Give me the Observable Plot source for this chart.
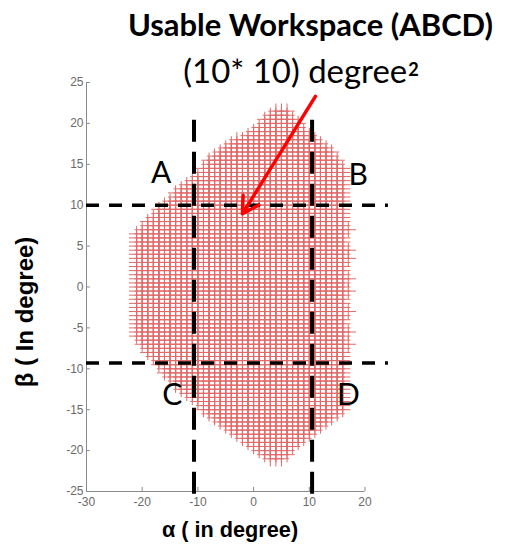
<!DOCTYPE html>
<html><head><meta charset="utf-8">
<script src="https://cdn.jsdelivr.net/npm/d3@7"></script>
<script src="https://cdn.jsdelivr.net/npm/@observablehq/plot@0.6"></script>
<style>
body{margin:0;background:#fff;}
#wrap{position:relative;width:505px;height:546px;overflow:hidden;background:#fff}
#wrap svg{position:absolute;left:0;top:0}
.lbl{position:absolute;white-space:nowrap;line-height:1;transform:translate(-50%,-50%);color:#000}
</style></head><body>
<div id="wrap">
<div id="chart"></div>
<div class="lbl" id="t1" data-w="365" style="left:310.5px;top:24px;font-family:Lato;font-weight:bold;font-size:28px">Usable Workspace (ABCD)</div>
<div class="lbl" id="t2" data-w="236" style="left:301px;top:70px;font-family:Lato;font-size:30px">(10* 10) degree<span style="font-weight:bold;font-size:0.55em;position:relative;top:-7px;margin-left:1px">2</span></div>
<div class="lbl" id="xl" data-w="136" style="left:230px;top:530px;font-family:'Liberation Sans';font-weight:bold;font-size:21.7px">α ( in degree)</div>
<div class="lbl" id="yl" data-w="151" style="left:24.5px;top:312px;font-family:'Liberation Sans';font-weight:bold;font-size:24px;transform:translate(-50%,-50%) rotate(-90deg)">β ( In degree)</div>
</div>
<script>
// ---- data ----
const alphaTicks = [-30, -20, -10, 0, 10, 20];
const betaTicks = [25, 20, 15, 10, 5, 0, -5, -10, -15, -20, -25];

// boundary of the reachable workspace (alpha, beta), clockwise from top
const boundaryAlpha = [3.5, 5.6, 9, 13, 15.5, 16.8, 16.8, 16.5, 13.2, 10, 6.5, 5.6, 3.4, 2.4, -2.5, -6.6, -10.2, -13.8, -16.9, -20.5, -21.7, -21.7, -20.8, -18.5, -16.1, -14.3, -10.1, -8.2, -4.1, 1.3];
const boundaryBeta  = [21.8, 21.8, 19.5, 17.2, 15.5, 14, -9, -14.8, -16.6, -18.3, -20.2, -21.4, -21.4, -20.8, -18.7, -16.6, -14.3, -12.3, -9.8, -6.8, -5.5, 6.2, 6.9, 8.5, 10.2, 11.4, 13.9, 15.5, 17.5, 20];
// sampling grid of the workspace scan
const gridAlphaStep = 1, gridBetaStep = 0.5;
// rows where the right edge reaches one column further
const rightBumpAlpha = 17;
const rightBumpBeta = [7, 4.5, 3.5, 1, -0.5, -3, -5.5, -7];

// dashed limits of usable workspace ABCD
const vLineAlpha = [-10.7, 10.5];
const vLineBetaTop = 20.4, vLineBetaBottom = -25.7;
const hLineBeta = [10, -9.3];
const hLineAlphaLeft = -30, hLineAlphaRight = 24.2;

// corner labels
const cornerText  = ["A", "B", "C", "D"];
const cornerAlpha = [-16.6, 18.8, -14.6, 17.0];
const cornerBeta  = [13.9, 13.7, -13.3, -13.3];

// red arrow
const arrowFrom = [11.1, 23.3];
const arrowTo = [-2.0, 8.95];

// ---- build marks ----
const boundary = boundaryAlpha.map((a, i) => [a, boundaryBeta[i]]);
const aMin = d3.min(boundaryAlpha), aMax = d3.max(boundaryAlpha);
const bMin = d3.min(boundaryBeta), bMax = d3.max(boundaryBeta);
const points = [];
for (let a = Math.ceil(aMin); a <= aMax; a += gridAlphaStep) {
  for (let b = Math.ceil(bMin / gridBetaStep) * gridBetaStep; b <= bMax; b += gridBetaStep) {
    if (d3.polygonContains(boundary, [a, b])) points.push({a, b});
  }
}
rightBumpBeta.forEach(b => points.push({a: rightBumpAlpha, b}));

const corners = cornerText.map((t, i) => ({t, a: cornerAlpha[i], b: cornerBeta[i]}));
const axisColor = "#8a8a8a";

const chart = Plot.plot({
  width: 505, height: 546,
  marginLeft: 86, marginRight: 140.5, marginTop: 82, marginBottom: 55,
  x: {domain: [-30, 20]},
  y: {domain: [-25, 25]},
  style: {fontFamily: "'Liberation Sans', Arial, sans-serif", background: "transparent", color: "#6a6a6a"},
  marks: [
    Plot.dot(points, {x: "a", y: "b", symbol: "plus", r: 5, stroke: "#e06a6a", strokeWidth: 1}),
    // axis frame (left and bottom), inward ticks
    Plot.ruleX([-30], {y1: -25, y2: 25, stroke: axisColor}),
    Plot.ruleY([-25], {x1: -30, x2: 20, stroke: axisColor}),
    Plot.ruleY(betaTicks, {x1: -30, x2: -29.3, stroke: axisColor}),
    Plot.ruleX(alphaTicks, {y1: -25, y2: -24.5, stroke: axisColor}),
    Plot.axisY(betaTicks, {anchor: "left", tickSize: 0, tickPadding: 3, tickFormat: d => `${d}`, fontSize: 12, color: "#6a6a6a", label: null}),
    Plot.axisX(alphaTicks, {anchor: "bottom", tickSize: 0, tickPadding: 6, tickFormat: d => `${d}`, fontSize: 12, color: "#6a6a6a", label: null}),
    // dashed lines
    Plot.ruleX(vLineAlpha, {y1: vLineBetaTop, y2: vLineBetaBottom, stroke: "#000", strokeWidth: 4, strokeDasharray: "22,10"}),
    Plot.ruleY(hLineBeta, {x1: hLineAlphaLeft, x2: hLineAlphaRight, stroke: "#000", strokeWidth: 3.5, strokeDasharray: "13,10"}),
    // arrow
    Plot.arrow([0], {x1: arrowFrom[0], y1: arrowFrom[1], x2: arrowTo[0], y2: arrowTo[1], stroke: "#ff0000", strokeWidth: 3.5, headLength: 8}),
    // corner labels
    Plot.text(corners, {x: "a", y: "b", text: "t", fontFamily: "Lato", fontSize: 30, fill: "#000", lineAnchor: "middle"})
  ]
});
document.getElementById("chart").appendChild(chart);

// fit annotation widths to the reference
document.querySelectorAll("[data-w]").forEach(el => {
  const target = +el.dataset.w;
  const w = el.offsetWidth;
  const fs = parseFloat(el.style.fontSize);
  el.style.fontSize = (fs * target / w) + "px";
});
</script>
</body></html>
